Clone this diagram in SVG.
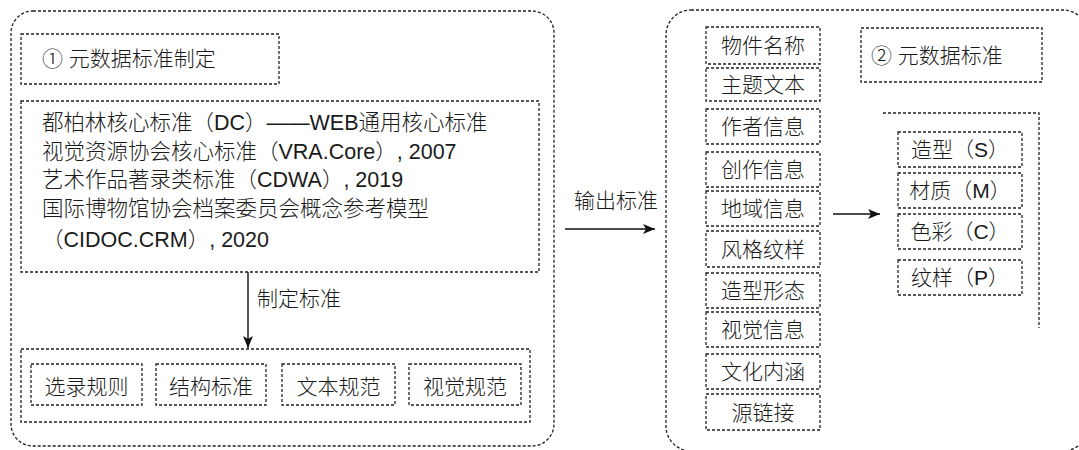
<svg xmlns="http://www.w3.org/2000/svg" width="1079" height="450" viewBox="0 0 1079 450">
<defs>
<style>
.d{fill:none;stroke:#222;stroke-width:1.3;stroke-dasharray:3 2}
.t{font-family:"Liberation Sans","Noto Sans CJK SC",sans-serif;font-size:21px;font-weight:300;fill:#1a1a1a}
.b{font-size:21.5px}
.c{text-anchor:middle}
.ln{stroke:#111;stroke-width:1.4;fill:none}
</style>
<marker id="ah" markerUnits="userSpaceOnUse" markerWidth="14" markerHeight="12" refX="12" refY="5" orient="auto">
<path d="M0,0 L12,5 L0,10 L3,5 z" fill="#111"/>
</marker>
</defs>
<rect width="1079" height="450" fill="#fff"/>

<g id="left-panel">
<rect class="d" x="11" y="11" width="543" height="435" rx="22"/>
</g>
<g id="title1">
<rect class="d" x="21" y="34" width="258" height="50"/>
<text class="t" x="42" y="66">① 元数据标准制定</text>
</g>
<g id="standards">
<rect class="d" x="21" y="101" width="518" height="171"/>
<text class="t b" x="42" y="130">都柏林核心标准（DC）——WEB通用核心标准</text>
<text class="t b" x="42" y="159">视觉资源协会核心标准（VRA.Core）, 2007</text>
<text class="t b" x="42" y="187">艺术作品著录类标准（CDWA）, 2019</text>
<text class="t b" x="42" y="216">国际博物馆协会档案委员会概念参考模型</text>
<text class="t b" x="42" y="247">（CIDOC.CRM）, 2020</text>
</g>
<g id="rules">
<rect class="d" x="21" y="349" width="509" height="73"/>
<g id="r1"><rect class="d" x="31" y="364" width="111" height="41"/><text class="t c" x="86.5" y="394">选录规则</text></g>
<g id="r2"><rect class="d" x="156" y="364" width="110" height="41"/><text class="t c" x="211" y="394">结构标准</text></g>
<g id="r3"><rect class="d" x="282" y="364" width="113" height="41"/><text class="t c" x="338.5" y="394">文本规范</text></g>
<g id="r4"><rect class="d" x="409" y="364" width="112" height="41"/><text class="t c" x="465" y="394">视觉规范</text></g>
</g>

<g id="right-panel">
<rect class="d" x="666" y="10" width="422" height="441" rx="25"/>
</g>
<g id="fields">
<g id="f1"><rect class="d" x="706" y="27" width="114" height="37"/><text class="t c" x="763" y="53">物件名称</text></g>
<g id="f2"><rect class="d" x="706" y="68" width="114" height="33"/><text class="t c" x="763" y="92">主题文本</text></g>
<g id="f3"><rect class="d" x="706" y="109" width="114" height="35"/><text class="t c" x="763" y="134">作者信息</text></g>
<g id="f4"><rect class="d" x="706" y="152" width="114" height="35"/><text class="t c" x="763" y="177">创作信息</text></g>
<g id="f5"><rect class="d" x="706" y="191" width="114" height="35"/><text class="t c" x="763" y="216">地域信息</text></g>
<g id="f6"><rect class="d" x="706" y="231" width="114" height="36"/><text class="t c" x="763" y="257">风格纹样</text></g>
<g id="f7"><rect class="d" x="706" y="273" width="114" height="35"/><text class="t c" x="763" y="298">造型形态</text></g>
<g id="f8"><rect class="d" x="706" y="312" width="114" height="35"/><text class="t c" x="763" y="337">视觉信息</text></g>
<g id="f9"><rect class="d" x="706" y="354" width="114" height="35"/><text class="t c" x="763" y="379">文化内涵</text></g>
<g id="f10"><rect class="d" x="706" y="394" width="114" height="36"/><text class="t c" x="763" y="420">源链接</text></g>
</g>
<g id="title2">
<rect class="d" x="861" y="28" width="181" height="54"/>
<text class="t" x="871" y="63">② 元数据标准</text>
</g>
<g id="dims">
<path class="d" d="M883,113 H1039 V328"/>
<g id="s1"><rect class="d" x="898" y="132" width="124" height="35"/><text class="t c" x="960" y="157">造型（S）</text></g>
<g id="s2"><rect class="d" x="898" y="173" width="124" height="35"/><text class="t c" x="960" y="198">材质（M）</text></g>
<g id="s3"><rect class="d" x="898" y="214" width="124" height="35"/><text class="t c" x="960" y="239">色彩（C）</text></g>
<g id="s4"><rect class="d" x="898" y="260" width="124" height="35"/><text class="t c" x="960" y="285">纹样（P）</text></g>
</g>

<g id="connectors">
<line class="ln" x1="248" y1="272" x2="248" y2="348" marker-end="url(#ah)"/>
<text class="t" x="257" y="306">制定标准</text>
<line class="ln" x1="565" y1="229" x2="655" y2="229" marker-end="url(#ah)"/>
<text class="t c" x="616" y="208">输出标准</text>
<line class="ln" x1="833" y1="214" x2="880" y2="214" marker-end="url(#ah)"/>
</g>
</svg>
